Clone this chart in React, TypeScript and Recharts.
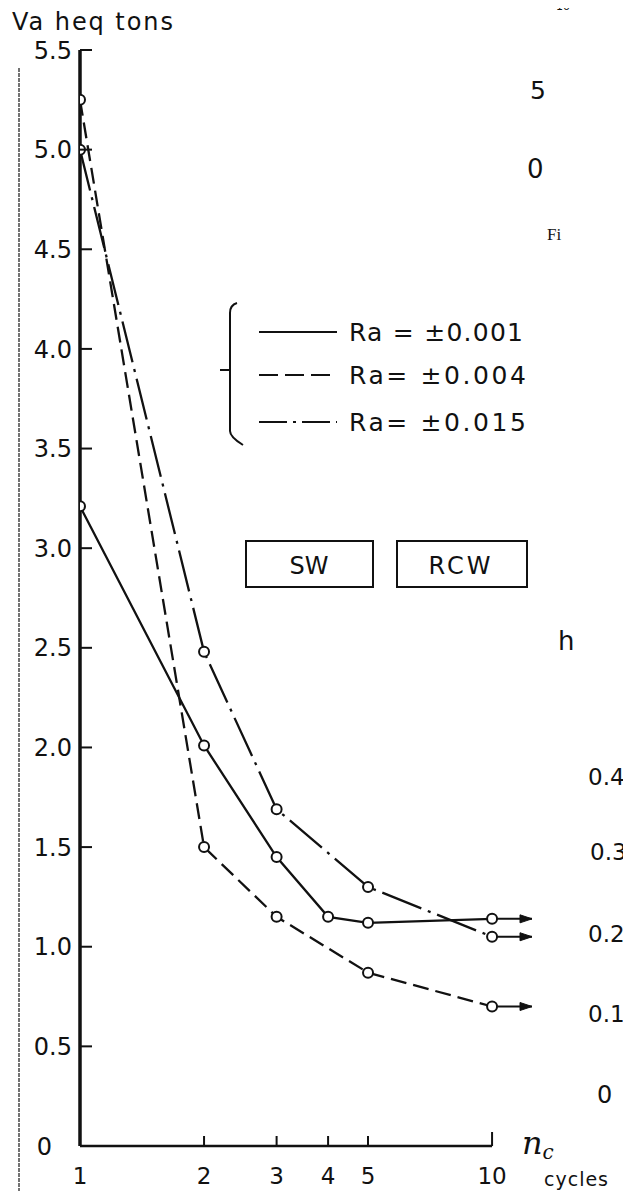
import React from "react";
import { LineChart, Line, XAxis, YAxis, ReferenceLine, Legend } from "recharts";

// ---- data ----
const CYCLES_SOLID = [1, 2, 3, 4, 5, 10];
const VA_SOLID = [3.21, 2.01, 1.45, 1.15, 1.12, 1.14];

const CYCLES_DASHED = [1, 2, 3, 5, 10];
const VA_DASHED = [5.25, 1.5, 1.15, 0.87, 0.7];

const CYCLES_DASHDOT = [1, 2, 3, 5, 10];
const VA_DASHDOT = [5.0, 2.48, 1.69, 1.3, 1.05];

const ARROW_END_CYCLES = 12.5;

const X_TICKS = [1, 2, 3, 4, 5, 10];
const X_TICK_LABELS = ["1", "2", "3", "4", "5", "10"];
const Y_TICKS = [0, 0.5, 1, 1.5, 2, 2.5, 3, 3.5, 4, 4.5, 5, 5.5];
const Y_TICK_LABELS = ["0", "0.5", "1.0", "1.5", "2.0", "2.5", "3.0", "3.5", "4.0", "4.5", "5.0", "5.5"];

const SERIES_NAMES = ["Ra = ±0.001", "Ra= ±0.004", "Ra= ±0.015"];
const SERIES_DASH = ["none", "16 7", "42 7 3 7"];
const LEGEND_DASH = ["none", "19 7", "28 6 3 6"];

const INK = "#111";
const FONT = "'DejaVu Sans', sans-serif";

const toPoints = (xs: number[], ys: number[]) => xs.map((x, i) => ({ cycles: x, va: ys[i] }));
const arrowPoints = (xs: number[], ys: number[]) => [
  { cycles: xs[xs.length - 1], va: ys[ys.length - 1] },
  { cycles: ARROW_END_CYCLES, va: ys[ys.length - 1] },
];

const SERIES = [
  { name: SERIES_NAMES[0], data: toPoints(CYCLES_SOLID, VA_SOLID), arrow: arrowPoints(CYCLES_SOLID, VA_SOLID), dash: SERIES_DASH[0] },
  { name: SERIES_NAMES[1], data: toPoints(CYCLES_DASHED, VA_DASHED), arrow: arrowPoints(CYCLES_DASHED, VA_DASHED), dash: SERIES_DASH[1] },
  { name: SERIES_NAMES[2], data: toPoints(CYCLES_DASHDOT, VA_DASHDOT), arrow: arrowPoints(CYCLES_DASHDOT, VA_DASHDOT), dash: SERIES_DASH[2] },
];

const YTick = (props: any) => {
  const { x, y, payload } = props;
  const v = payload.value;
  const i = Y_TICKS.indexOf(v);
  const shift = v === 0 ? 20 : 0;
  return (
    <g>
      <line x1={x + 8} y1={y} x2={x + 20} y2={y} stroke={INK} strokeWidth={2} />
      <text x={x - shift} y={y} dy="0.36em" textAnchor="end" fontSize={24} fontFamily={FONT} fill={INK}>
        {Y_TICK_LABELS[i]}
      </text>
    </g>
  );
};

const XTick = (props: any) => {
  const { x, y, payload } = props;
  const v = payload.value;
  const i = X_TICKS.indexOf(v);
  const h = v === 1 ? 0 : v === 10 ? 14 : 10;
  return (
    <g>
      {h > 0 && <line x1={x} y1={y} x2={x} y2={y - h} stroke={INK} strokeWidth={2} />}
      <text x={x} y={y + 38} textAnchor="middle" fontSize={23} fontFamily={FONT} fill={INK}>
        {X_TICK_LABELS[i]}
      </text>
    </g>
  );
};

const ArrowHead = (props: any) => {
  const { cx, cy, index } = props;
  if (index !== 1 || cx == null || cy == null) return <g key={`a-${index}`} />;
  return <path key={`a-${index}`} d={`M${cx},${cy} L${cx - 12},${cy - 4} L${cx - 12},${cy + 4} Z`} fill={INK} stroke={INK} strokeWidth={1} />;
};

const renderLegend = (props: any) => {
  const payload = (props.payload || []).filter((p: any) => SERIES_NAMES.indexOf(p.value) >= 0);
  const rows = [37, 80, 127];
  const widths = [174, 177, 177];
  return (
    <svg width={330} height={160} style={{ overflow: "visible" }}>
      <path d="M22,8 Q15,10 15,18 L15,136 Q15,142 28,150" fill="none" stroke={INK} strokeWidth={2} />
      <line x1={5} y1={75} x2={15} y2={75} stroke={INK} strokeWidth={2} />
      {payload.map((p: any) => {
        const i = SERIES_NAMES.indexOf(p.value);
        return (
          <g key={p.value}>
            <line x1={44} y1={rows[i]} x2={122} y2={rows[i]} stroke={INK} strokeWidth={2} strokeDasharray={LEGEND_DASH[i]} />
            <text x={134} y={rows[i]} dy="0.36em" fontSize={25} fontFamily={FONT} fill={INK} textLength={widths[i]} lengthAdjust="spacing">
              {p.value}
            </text>
          </g>
        );
      })}
    </svg>
  );
};

export default function App() {
  return (
    <div style={{ position: "relative", width: 631, height: 1191, marginLeft: -8, marginTop: -8, background: "#fff", overflow: "hidden" }}>
      <LineChart width={631} height={1191} margin={{ top: 50, right: 99, bottom: 0, left: 0 }}>
        <XAxis
          dataKey="cycles"
          type="number"
          scale="log"
          domain={[1, ARROW_END_CYCLES]}
          ticks={X_TICKS}
          interval={0}
          allowDataOverflow
          axisLine={false}
          tickLine={false}
          tickSize={0}
          tickMargin={0}
          height={45}
          tick={<XTick />}
        />
        <YAxis
          type="number"
          domain={[0, 5.5]}
          ticks={Y_TICKS}
          interval={0}
          width={80}
          tickLine={false}
          tickSize={0}
          tickMargin={8}
          axisLine={{ stroke: INK, strokeWidth: 3.5 }}
          tick={<YTick />}
        />
        <ReferenceLine segment={[{ x: 1, y: 0 }, { x: 10, y: 0 }]} stroke={INK} strokeWidth={2.5} />
        {SERIES.map((s) => (
          <Line
            key={`arrow-${s.name}`}
            data={s.arrow}
            dataKey="va"
            type="linear"
            stroke={INK}
            strokeWidth={2}
            dot={ArrowHead}
            activeDot={false}
            legendType="none"
            isAnimationActive={false}
          />
        ))}
        {SERIES.map((s) => (
          <Line
            key={s.name}
            name={s.name}
            data={s.data}
            dataKey="va"
            type="linear"
            stroke={INK}
            strokeWidth={2.3}
            strokeDasharray={s.dash}
            dot={{ r: 5, fill: "#fff", stroke: INK, strokeWidth: 2, strokeDasharray: "none" }}
            activeDot={false}
            isAnimationActive={false}
          />
        ))}
        <Legend
          layout="horizontal"
          verticalAlign="middle"
          align="center"
          content={renderLegend}
          wrapperStyle={{ left: 215, top: 295, width: 330, height: 160 }}
        />
      </LineChart>
      <svg width={631} height={1191} style={{ position: "absolute", left: 0, top: 0, pointerEvents: "none" }}>
        <line x1={19} y1={68} x2={19} y2={1191} stroke="#444" strokeWidth={1.5} strokeDasharray="4 1" />
        <line x1={4} y1={8} x2={4} y2={62} stroke="#666" strokeWidth={1.2} strokeDasharray="3 1" />
        <text x={12} y={30} fontSize={24} fontFamily={FONT} fill={INK} textLength={161} lengthAdjust="spacing">Va heq tons</text>
        <rect x={246} y={541} width={127} height={46} fill="none" stroke={INK} strokeWidth={2} />
        <text x={309} y={565} dy="0.36em" textAnchor="middle" fontSize={24} fontFamily={FONT} fill={INK}>SW</text>
        <rect x={397} y={541} width={130} height={46} fill="none" stroke={INK} strokeWidth={2} />
        <text x={461} y={565} dy="0.36em" textAnchor="middle" fontSize={24} fontFamily={FONT} fill={INK} letterSpacing={3}>RCW</text>
        <text x={522} y={1154} fontSize={32} fontStyle="italic" fontFamily="'DejaVu Serif', serif" fill={INK}>
          n<tspan fontSize={20} dy={5}>c</tspan>
        </text>
        <text x={544} y={1186} fontSize={19} fontFamily={FONT} fill={INK} letterSpacing={1}>cycles</text>
        <text x={556} y={10} fontSize={11} fontFamily={FONT} fill={INK}>10</text>
        <text x={530} y={99} fontSize={25} fontFamily={FONT} fill={INK}>5</text>
        <text x={527} y={178} fontSize={26} fontFamily={FONT} fill={INK}>0</text>
        <text x={547} y={240} fontSize={17} fontFamily="'Liberation Serif', serif" fill={INK}>Fi</text>
        <text x={558} y={650} fontSize={26} fontFamily={FONT} fill={INK}>h</text>
        <text x={588} y={785} fontSize={23} fontFamily={FONT} fill={INK}>0.4</text>
        <text x={590} y={860} fontSize={23} fontFamily={FONT} fill={INK}>0.3</text>
        <text x={588} y={942} fontSize={23} fontFamily={FONT} fill={INK}>0.2</text>
        <text x={588} y={1022} fontSize={23} fontFamily={FONT} fill={INK}>0.1</text>
        <text x={597} y={1103} fontSize={24} fontFamily={FONT} fill={INK}>0</text>
      </svg>
    </div>
  );
}
